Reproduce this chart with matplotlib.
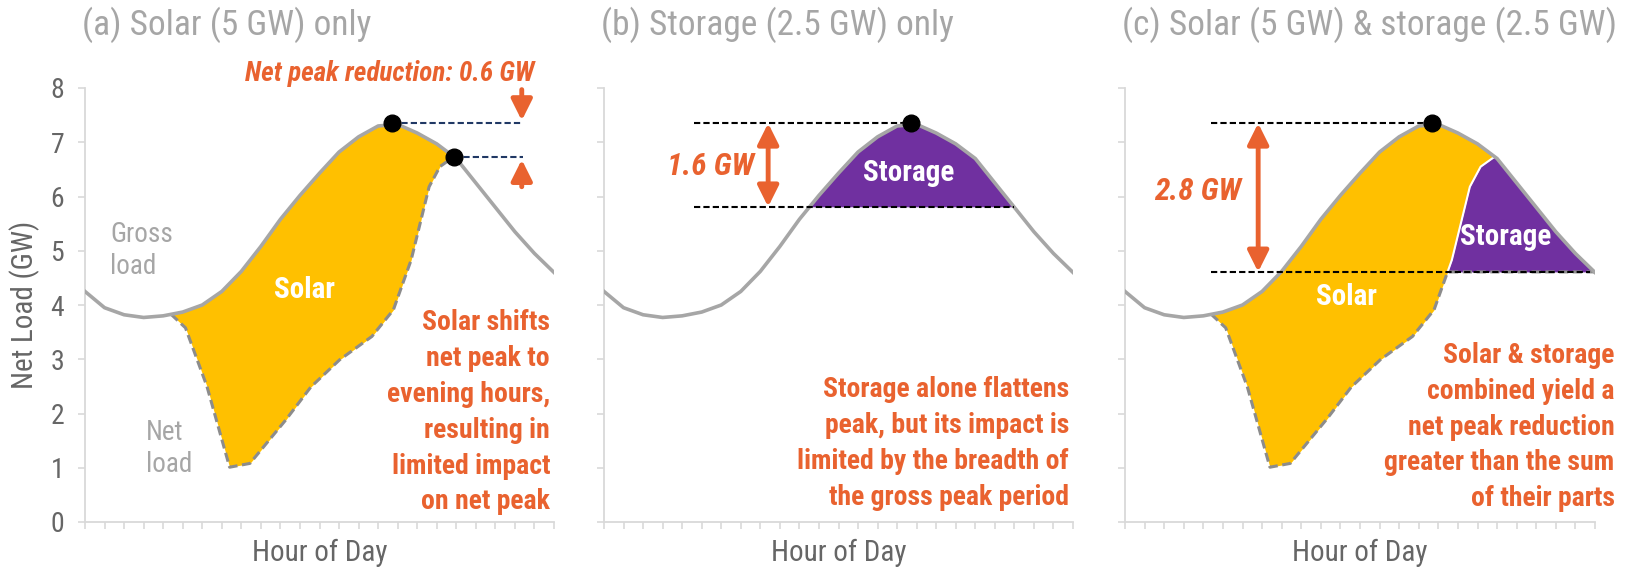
import numpy as np
import matplotlib.pyplot as plt

plt.rcParams['font.family'] = ['Roboto Condensed', 'PT Sans Narrow', 'Archivo Narrow',
                               'News Cycle', 'Liberation Sans', 'DejaVu Sans']

# Gross load by hour (GW)
hours = np.arange(0, 25)
gross_load = np.array([4.25, 3.95, 3.82, 3.77, 3.80, 3.87, 4.00, 4.25, 4.62, 5.08,
                       5.58, 6.02, 6.43, 6.82, 7.10, 7.30, 7.33, 7.17, 6.97, 6.70,
                       6.25, 5.80, 5.35, 4.95, 4.60])

# Net load with 5 GW solar (only where it departs from gross load)
net_hours = [4.40, 5.14, 6.24, 7.40, 8.44, 10.27, 11.56, 13.03, 14.68, 15.78,
             16.69, 17.61, 18.16, 18.86]
net_load = [3.83, 3.58, 2.50, 1.01, 1.08, 1.88, 2.49, 2.99, 3.42, 3.91,
            4.83, 6.18, 6.55, 6.73]

gross_peak = (15.7, 7.35)
net_peak = (18.86, 6.73)
storage_cap_b = 5.81   # net peak with storage only
storage_cap_c = 4.61   # net peak with solar + storage
reduction_labels = ['1.6 GW', '2.8 GW']

titles = ['(a) Solar (5 GW) only', '(b) Storage (2.5 GW) only',
          '(c) Solar (5 GW) & storage (2.5 GW)']

GOLD = '#FFC000'
PURPLE = '#7030A0'
ORANGE = '#E9622F'
GRAY = '#A6A6A6'
AXIS = '#D9D9D9'
TXT = '#666666'

# common grid so the fills follow the drawn lines
x_all = np.union1d(np.linspace(0, 24, 481), net_hours)
gross_all = np.interp(x_all, hours, gross_load)
net_all = np.interp(x_all, net_hours, net_load)
outside = (x_all < net_hours[0]) | (x_all > net_hours[-1])
net_all[outside] = gross_all[outside]

W, H = 1626, 569
fig = plt.figure(figsize=(W / 100, H / 100), dpi=100)
lefts = [85, 604, 1125]
widths = [469, 469, 470]
axes = []
for i in range(3):
    ax = fig.add_axes([lefts[i] / W, 47 / H, widths[i] / W, 434 / H])
    ax.set_xlim(0, 24)
    ax.set_ylim(0, 8)
    for s in ['top', 'right']:
        ax.spines[s].set_visible(False)
    for s in ['left', 'bottom']:
        ax.spines[s].set_color(AXIS)
        ax.spines[s].set_linewidth(1.3)
    ax.set_xticks(hours)
    ax.set_xticklabels([])
    ax.set_yticks(range(9))
    ax.tick_params(axis='both', colors=AXIS, length=5, width=1.2)
    ax.tick_params(axis='y', labelcolor=TXT, labelsize=20, pad=10)
    if i > 0:
        ax.set_yticklabels([])
    ax.text(0.5, -0.072, 'Hour of Day', transform=ax.transAxes, ha='center',
            va='center', fontsize=21, color=TXT)
    fig.text((lefts[i] - 3) / W, 1 - 25 / H, titles[i], ha='left', va='center',
             fontsize=25.5, color=GRAY)
    axes.append(ax)

fig.text(25 / W, 1 - 305 / H, 'Net Load (GW)', rotation=90, ha='center',
         va='center', fontsize=21, color=TXT)

body = dict(ha='right', va='center', fontsize=20, color=ORANGE,
            fontweight='bold', linespacing=1.42, clip_on=False)
arrow2 = dict(arrowstyle='<|-|>,head_length=0.7,head_width=0.35', color=ORANGE,
              lw=3.5, shrinkA=0, shrinkB=0, mutation_scale=18)
arrow1 = dict(arrowstyle='-|>,head_length=0.7,head_width=0.35', color=ORANGE,
              lw=3.5, shrinkA=0, shrinkB=0, mutation_scale=18)
dash = (0, (3, 1.5))

# (a) solar only
ax = axes[0]
ax.fill_between(x_all, net_all, gross_all, where=gross_all > net_all,
                color=GOLD, lw=0, zorder=1)
ax.plot(net_hours, net_load, color='#8C8C8C', lw=2.2, ls=dash, zorder=2)
ax.plot(hours, gross_load, color=GRAY, lw=2.6, zorder=3)
ax.plot([gross_peak[0], 22.4], [gross_peak[1]] * 2, color='#203864', lw=1.5,
        ls=dash, zorder=2)
ax.plot([net_peak[0], 22.4], [net_peak[1]] * 2, color='#203864', lw=1.5,
        ls=dash, zorder=2)
ax.plot(*zip(gross_peak, net_peak), 'o', color='black', ms=12, zorder=4)
ax.annotate('', xy=(22.35, gross_peak[1] + 0.05), xytext=(22.35, 7.97),
            arrowprops=arrow1, annotation_clip=False)
ax.annotate('', xy=(22.35, net_peak[1] - 0.05), xytext=(22.35, 6.18),
            arrowprops=arrow1, annotation_clip=False)
ax.text(23.0, 8.27, 'Net peak reduction: 0.6 GW', ha='right', va='center',
        fontsize=19.5, color=ORANGE, fontweight='bold', fontstyle='italic',
        clip_on=False)
ax.text(1.28, 5.01, 'Gross\nload', ha='left', va='center', fontsize=19.5,
        color=GRAY, linespacing=1.25)
ax.text(3.12, 1.36, 'Net\nload', ha='left', va='center', fontsize=19.5,
        color=GRAY, linespacing=1.25)
ax.text(11.25, 4.28, 'Solar', ha='center', va='center', fontsize=21,
        color='white', fontweight='bold', zorder=5)
ax.text(23.8, 2.02, 'Solar shifts\nnet peak to\nevening hours,\nresulting in\n'
        'limited impact\non net peak', **body)

# (b) storage only
ax = axes[1]
net_b = np.minimum(gross_all, storage_cap_b)
ax.fill_between(x_all, net_b, gross_all, where=gross_all > net_b,
                color=PURPLE, lw=0, zorder=1)
ax.plot(hours, gross_load, color=GRAY, lw=2.6, zorder=3)
ax.plot([4.6, gross_peak[0]], [gross_peak[1]] * 2, color='black', lw=1.5,
        ls=dash, zorder=2)
ax.plot([4.6, 21.0], [storage_cap_b] * 2, color='black', lw=1.5,
        ls=dash, zorder=4)
ax.plot(*gross_peak, 'o', color='black', ms=12, zorder=4)
ax.annotate('', xy=(8.4, gross_peak[1]), xytext=(8.4, storage_cap_b),
            arrowprops=arrow2)
ax.text(7.7, 6.55, reduction_labels[0], ha='right', va='center', fontsize=22.5,
        color=ORANGE, fontweight='bold', fontstyle='italic')
ax.text(15.6, 6.43, 'Storage', ha='center', va='center', fontsize=21,
        color='white', fontweight='bold', zorder=5)
ax.text(23.8, 1.45, 'Storage alone flattens\npeak, but its impact is\n'
        'limited by the breadth of\nthe gross peak period', **body)

# (c) solar + storage
ax = axes[2]
net_c = np.minimum(net_all, storage_cap_c)
ax.fill_between(x_all, net_all, gross_all, where=gross_all > net_all,
                color=GOLD, lw=0, zorder=1)
ax.fill_between(x_all, net_c, net_all, where=net_all > net_c,
                color=PURPLE, lw=0, zorder=1.5)
edge = (net_all > storage_cap_c) & (x_all <= net_hours[-1]) & (x_all > 12)
ax.plot(x_all[edge], net_all[edge], color='white', lw=1.5, zorder=2)
ax.plot(x_all[x_all >= net_hours[0]], net_c[x_all >= net_hours[0]],
        color='#8C8C8C', lw=2.2, ls=dash, zorder=2)
ax.plot(hours, gross_load, color=GRAY, lw=2.6, zorder=3)
ax.plot([4.4, gross_peak[0]], [gross_peak[1]] * 2, color='black', lw=1.5,
        ls=dash, zorder=2)
ax.plot([4.4, 23.76], [storage_cap_c] * 2, color='black', lw=1.5,
        ls=dash, zorder=4)
ax.plot(*gross_peak, 'o', color='black', ms=12, zorder=4)
ax.annotate('', xy=(6.8, gross_peak[1]), xytext=(6.8, storage_cap_c),
            arrowprops=arrow2)
ax.text(5.92, 6.09, reduction_labels[1], ha='right', va='center', fontsize=22.5,
        color=ORANGE, fontweight='bold', fontstyle='italic')
ax.text(11.3, 4.15, 'Solar', ha='center', va='center', fontsize=21,
        color='white', fontweight='bold', zorder=5)
ax.text(19.45, 5.26, 'Storage', ha='center', va='center', fontsize=21,
        color='white', fontweight='bold', zorder=5)
ax.text(25.0, 1.75, 'Solar & storage\ncombined yield a\nnet peak reduction\n'
        'greater than the sum\nof their parts', **body)

fig.savefig('out.png', dpi=100)
